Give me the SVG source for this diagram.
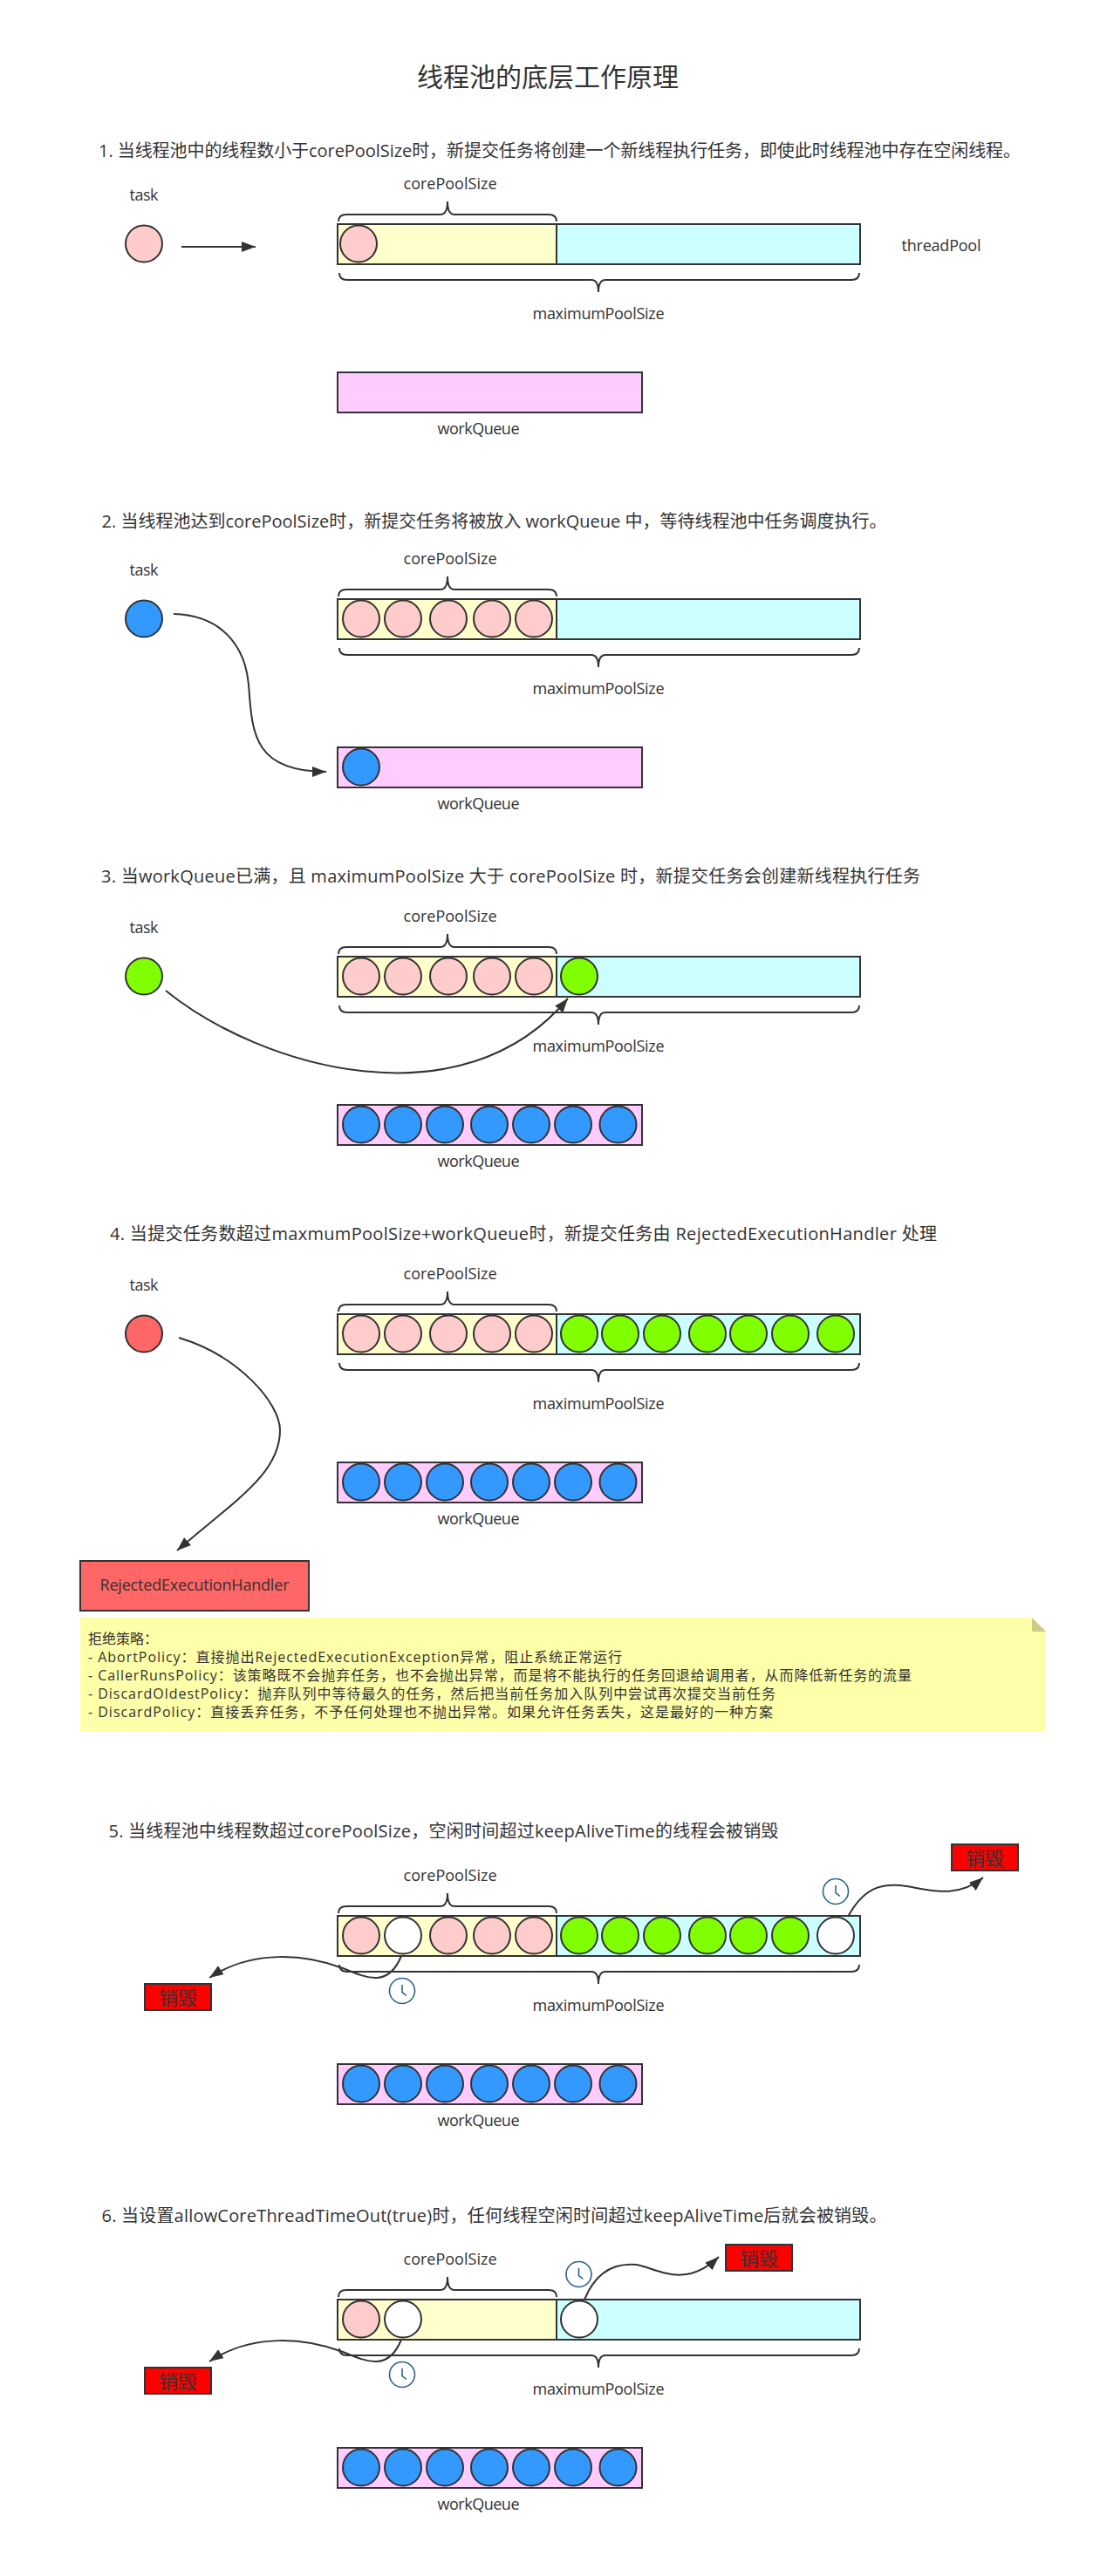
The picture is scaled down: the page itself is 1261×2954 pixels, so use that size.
<svg xmlns="http://www.w3.org/2000/svg" xmlns:xlink="http://www.w3.org/1999/xlink" width="1261" height="2954" viewBox="0 0 1261 2954">
<style>
text{font-family:"Open Sans","Noto Sans CJK SC",sans-serif;fill:#333;dominant-baseline:central}
.t{font-size:30px;text-anchor:middle}
.h{font-size:20px}
.l{font-size:18px;text-anchor:middle}
.n{font-size:16px}
.d{font-size:22px;text-anchor:middle}
.s{stroke:#333;stroke-width:2}
.c{stroke:#333;stroke-width:2}
.pink{fill:#fcc}.white{fill:#fff}.blue{fill:#39f}.green{fill:#80ff00}.red{fill:#f66}
.core{fill:#ffc}.max{fill:#cff}.queue{fill:#fcf}
.kill{fill:#f00}
.b{fill:none;stroke:#333;stroke-width:2}
.w{fill:none;stroke:#333;stroke-width:2}
.clk{fill:none;stroke:#2b6488;stroke-width:1.6}
</style>
<defs>
<marker id="ah" markerUnits="userSpaceOnUse" markerWidth="17" markerHeight="14" refX="16" refY="6" orient="auto"><path d="M0 0L16 6L0 12Z" fill="#333"/></marker>
<path id="bt" class="b" d="M388 254Q388 246 397 246H505Q513 246 513 231Q513 246 521 246H629Q638 246 638 254"/>
<path id="bb" class="b" d="M389 313Q389 321 398 321H678Q686 321 686 335Q686 321 694 321H976Q985 321 985 313"/>
<g id="pool"><rect class="s core" x="387" y="257" width="251" height="46"/><rect class="s max" x="638" y="257" width="348" height="46"/></g>
<rect id="wq" class="s queue" x="387" y="427" width="349" height="46"/>
<g id="clock"><circle class="clk" cx="0" cy="0" r="14.5"/><path class="clk" d="M0 -7V1.5L5 5.5"/></g>
</defs>
<rect width="1261" height="2954" fill="#fff"/>
<g id="title"><text class="t" x="628" y="87" textLength="300">线程池的底层工作原理</text></g>
<g id="heading-1"><text class="h" x="113" y="172.5" textLength="1057">1. 当线程池中的线程数小于corePoolSize时，新提交任务将创建一个新线程执行任务，即使此时线程池中存在空闲线程。</text></g>
<g id="heading-2"><text class="h" x="116.5" y="597" textLength="900">2. 当线程池达到corePoolSize时，新提交任务将被放入 workQueue 中，等待线程池中任务调度执行。</text></g>
<g id="heading-3"><text class="h" x="116" y="1004" textLength="939">3. 当workQueue已满，且 maximumPoolSize 大于 corePoolSize 时，新提交任务会创建新线程执行任务</text></g>
<g id="heading-4"><text class="h" x="126" y="1414" textLength="948">4. 当提交任务数超过maxmumPoolSize+workQueue时，新提交任务由 RejectedExecutionHandler 处理</text></g>
<g id="heading-5"><text class="h" x="124.5" y="2099" textLength="768">5. 当线程池中线程数超过corePoolSize，空闲时间超过keepAliveTime的线程会被销毁</text></g>
<g id="heading-6"><text class="h" x="116.5" y="2540" textLength="900">6. 当设置allowCoreThreadTimeOut(true)时，任何线程空闲时间超过keepAliveTime后就会被销毁。</text></g>

<g id="section-1">
<g id="task-1"><text class="l" x="165" y="223" textLength="33">task</text><circle class="c pink" cx="165" cy="279.5" r="21"/></g>
<g id="pool-1"><use href="#bt"/><use href="#pool"/><use href="#bb"/>
<text class="l" x="516" y="210" textLength="107">corePoolSize</text><text class="l" x="686" y="359" textLength="151">maximumPoolSize</text><text class="l" x="1079" y="280.5" textLength="91">threadPool</text>
<circle class="c pink" cx="411" cy="279.5" r="21"/></g>
<g id="queue-1"><use href="#wq"/><text class="l" x="548.5" y="491" textLength="94">workQueue</text></g>
</g>

<g id="section-2" transform="translate(0 430)">
<g id="task-2"><text class="l" x="165" y="223" textLength="33">task</text><circle class="c blue" cx="165" cy="279.5" r="21"/></g>
<g id="pool-2"><use href="#bt"/><use href="#pool"/><use href="#bb"/>
<text class="l" x="516" y="210" textLength="107">corePoolSize</text><text class="l" x="686" y="359" textLength="151">maximumPoolSize</text>
<circle class="c pink" cx="414" cy="279.5" r="21"/><circle class="c pink" cx="462" cy="279.5" r="21"/><circle class="c pink" cx="514" cy="279.5" r="21"/><circle class="c pink" cx="564" cy="279.5" r="21"/><circle class="c pink" cx="612" cy="279.5" r="21"/></g>
<g id="queue-2"><use href="#wq"/><text class="l" x="548.5" y="491" textLength="94">workQueue</text><circle class="c blue" cx="414" cy="449.5" r="21"/></g>
</g>

<g id="section-3" transform="translate(0 840)">
<g id="task-3"><text class="l" x="165" y="223" textLength="33">task</text><circle class="c green" cx="165" cy="279.5" r="21"/></g>
<g id="pool-3"><use href="#bt"/><use href="#pool"/><use href="#bb"/>
<text class="l" x="516" y="210" textLength="107">corePoolSize</text><text class="l" x="686" y="359" textLength="151">maximumPoolSize</text>
<circle class="c pink" cx="414" cy="279.5" r="21"/><circle class="c pink" cx="462" cy="279.5" r="21"/><circle class="c pink" cx="514" cy="279.5" r="21"/><circle class="c pink" cx="564" cy="279.5" r="21"/><circle class="c pink" cx="612" cy="279.5" r="21"/><circle class="c green" cx="664" cy="279.5" r="21"/></g>
<g id="queue-3"><use href="#wq"/><text class="l" x="548.5" y="491" textLength="94">workQueue</text>
<circle class="c blue" cx="414" cy="449.5" r="21"/><circle class="c blue" cx="462" cy="449.5" r="21"/><circle class="c blue" cx="510" cy="449.5" r="21"/><circle class="c blue" cx="561" cy="449.5" r="21"/><circle class="c blue" cx="609" cy="449.5" r="21"/><circle class="c blue" cx="657" cy="449.5" r="21"/><circle class="c blue" cx="708.5" cy="449.5" r="21"/></g>
</g>

<g id="section-4" transform="translate(0 1250)">
<g id="task-4"><text class="l" x="165" y="223" textLength="33">task</text><circle class="c red" cx="165" cy="279.5" r="21"/></g>
<g id="pool-4"><use href="#bt"/><use href="#pool"/><use href="#bb"/>
<text class="l" x="516" y="210" textLength="107">corePoolSize</text><text class="l" x="686" y="359" textLength="151">maximumPoolSize</text>
<circle class="c pink" cx="414" cy="279.5" r="21"/><circle class="c pink" cx="462" cy="279.5" r="21"/><circle class="c pink" cx="514" cy="279.5" r="21"/><circle class="c pink" cx="564" cy="279.5" r="21"/><circle class="c pink" cx="612" cy="279.5" r="21"/>
<circle class="c green" cx="664" cy="279.5" r="21"/><circle class="c green" cx="711" cy="279.5" r="21"/><circle class="c green" cx="759" cy="279.5" r="21"/><circle class="c green" cx="811" cy="279.5" r="21"/><circle class="c green" cx="858" cy="279.5" r="21"/><circle class="c green" cx="906" cy="279.5" r="21"/><circle class="c green" cx="958" cy="279.5" r="21"/></g>
<g id="queue-4"><use href="#wq"/><text class="l" x="548.5" y="491" textLength="94">workQueue</text>
<circle class="c blue" cx="414" cy="449.5" r="21"/><circle class="c blue" cx="462" cy="449.5" r="21"/><circle class="c blue" cx="510" cy="449.5" r="21"/><circle class="c blue" cx="561" cy="449.5" r="21"/><circle class="c blue" cx="609" cy="449.5" r="21"/><circle class="c blue" cx="657" cy="449.5" r="21"/><circle class="c blue" cx="708.5" cy="449.5" r="21"/></g>
</g>
<g id="handler"><rect class="s red" x="92" y="1790" width="262" height="57"/><text class="l" x="223" y="1817" textLength="217">RejectedExecutionHandler</text></g>
<g id="note">
<path d="M92 1855H1183L1199 1871V1986H92Z" fill="#ffa"/><path d="M1183 1855L1199 1871H1183Z" fill="#cc8"/>
<text class="n" x="101" y="1879">拒绝策略：</text>
<text class="n" x="101" y="1900" textLength="612">- AbortPolicy：直接抛出RejectedExecutionException异常，阻止系统正常运行</text>
<text class="n" x="101" y="1921" textLength="944">- CallerRunsPolicy：该策略既不会抛弃任务，也不会抛出异常，而是将不能执行的任务回退给调用者，从而降低新任务的流量</text>
<text class="n" x="101" y="1942" textLength="788">- DiscardOldestPolicy：抛弃队列中等待最久的任务，然后把当前任务加入队列中尝试再次提交当前任务</text>
<text class="n" x="101" y="1962.5" textLength="785">- DiscardPolicy：直接丢弃任务，不予任何处理也不抛出异常。如果允许任务丢失，这是最好的一种方案</text>
</g>

<g id="section-5" transform="translate(0 1940)">
<g id="pool-5"><use href="#bt"/><use href="#pool"/><use href="#bb"/>
<text class="l" x="516" y="210" textLength="107">corePoolSize</text><text class="l" x="686" y="359" textLength="151">maximumPoolSize</text>
<circle class="c pink" cx="414" cy="279.5" r="21"/><circle class="c white" cx="462" cy="279.5" r="21"/><circle class="c pink" cx="514" cy="279.5" r="21"/><circle class="c pink" cx="564" cy="279.5" r="21"/><circle class="c pink" cx="612" cy="279.5" r="21"/>
<circle class="c green" cx="664" cy="279.5" r="21"/><circle class="c green" cx="711" cy="279.5" r="21"/><circle class="c green" cx="759" cy="279.5" r="21"/><circle class="c green" cx="811" cy="279.5" r="21"/><circle class="c green" cx="858" cy="279.5" r="21"/><circle class="c green" cx="906" cy="279.5" r="21"/><circle class="c white" cx="958" cy="279.5" r="21"/></g>
<g id="queue-5"><use href="#wq"/><text class="l" x="548.5" y="491" textLength="94">workQueue</text>
<circle class="c blue" cx="414" cy="449.5" r="21"/><circle class="c blue" cx="462" cy="449.5" r="21"/><circle class="c blue" cx="510" cy="449.5" r="21"/><circle class="c blue" cx="561" cy="449.5" r="21"/><circle class="c blue" cx="609" cy="449.5" r="21"/><circle class="c blue" cx="657" cy="449.5" r="21"/><circle class="c blue" cx="708.5" cy="449.5" r="21"/></g>
</g>
<use id="clock-5a" href="#clock" x="958" y="2169"/>
<use id="clock-5b" href="#clock" x="461" y="2283"/>
<g id="kill-5a"><rect class="s kill" x="1091" y="2115" width="76" height="30"/><text class="d" x="1129" y="2130">销毁</text></g>
<g id="kill-5b"><rect class="s kill" x="166" y="2275" width="76" height="30"/><text class="d" x="204" y="2290">销毁</text></g>

<g id="section-6" transform="translate(0 2380)">
<g id="pool-6"><use href="#bt"/><use href="#pool"/><use href="#bb"/>
<text class="l" x="516" y="210" textLength="107">corePoolSize</text><text class="l" x="686" y="359" textLength="151">maximumPoolSize</text>
<circle class="c pink" cx="414" cy="279.5" r="21"/><circle class="c white" cx="462" cy="279.5" r="21"/><circle class="c white" cx="664" cy="279.5" r="21"/></g>
<g id="queue-6"><use href="#wq"/><text class="l" x="548.5" y="491" textLength="94">workQueue</text>
<circle class="c blue" cx="414" cy="449.5" r="21"/><circle class="c blue" cx="462" cy="449.5" r="21"/><circle class="c blue" cx="510" cy="449.5" r="21"/><circle class="c blue" cx="561" cy="449.5" r="21"/><circle class="c blue" cx="609" cy="449.5" r="21"/><circle class="c blue" cx="657" cy="449.5" r="21"/><circle class="c blue" cx="708.5" cy="449.5" r="21"/></g>
</g>
<use id="clock-6a" href="#clock" x="663.5" y="2608"/>
<use id="clock-6b" href="#clock" x="461" y="2723"/>
<g id="kill-6a"><rect class="s kill" x="832" y="2574" width="76" height="30"/><text class="d" x="870" y="2589">销毁</text></g>
<g id="kill-6b"><rect class="s kill" x="166" y="2715" width="76" height="30"/><text class="d" x="204" y="2730">销毁</text></g>

<g id="connectors">
<path class="w" marker-end="url(#ah)" d="M208 283H293"/>
<path class="w" marker-end="url(#ah)" d="M199 704C262 706 282 750 285 785C289 840 290 885 374 885"/>
<path class="w" marker-end="url(#ah)" d="M190 1136C300 1225 530 1290 651 1145"/>
<path class="w" marker-end="url(#ah)" d="M205 1534C275 1555 321 1610 321 1640C321 1690 270 1720 203 1778"/>
<path class="w" marker-end="url(#ah)" d="M972 2198C990 2165 1010 2160 1032 2162C1060 2165 1095 2180 1127 2153"/>
<path class="w" marker-end="url(#ah)" d="M460 2243C445 2280 420 2268 393 2257C350 2241 290 2235 240 2268"/>
<path class="w" marker-end="url(#ah)" d="M670 2637C685 2600 710 2595 730 2597C755 2602 785 2625 824 2588"/>
<path class="w" marker-end="url(#ah)" d="M460 2683C445 2720 420 2708 393 2697C350 2681 290 2675 240 2708"/>
</g>
</svg>
